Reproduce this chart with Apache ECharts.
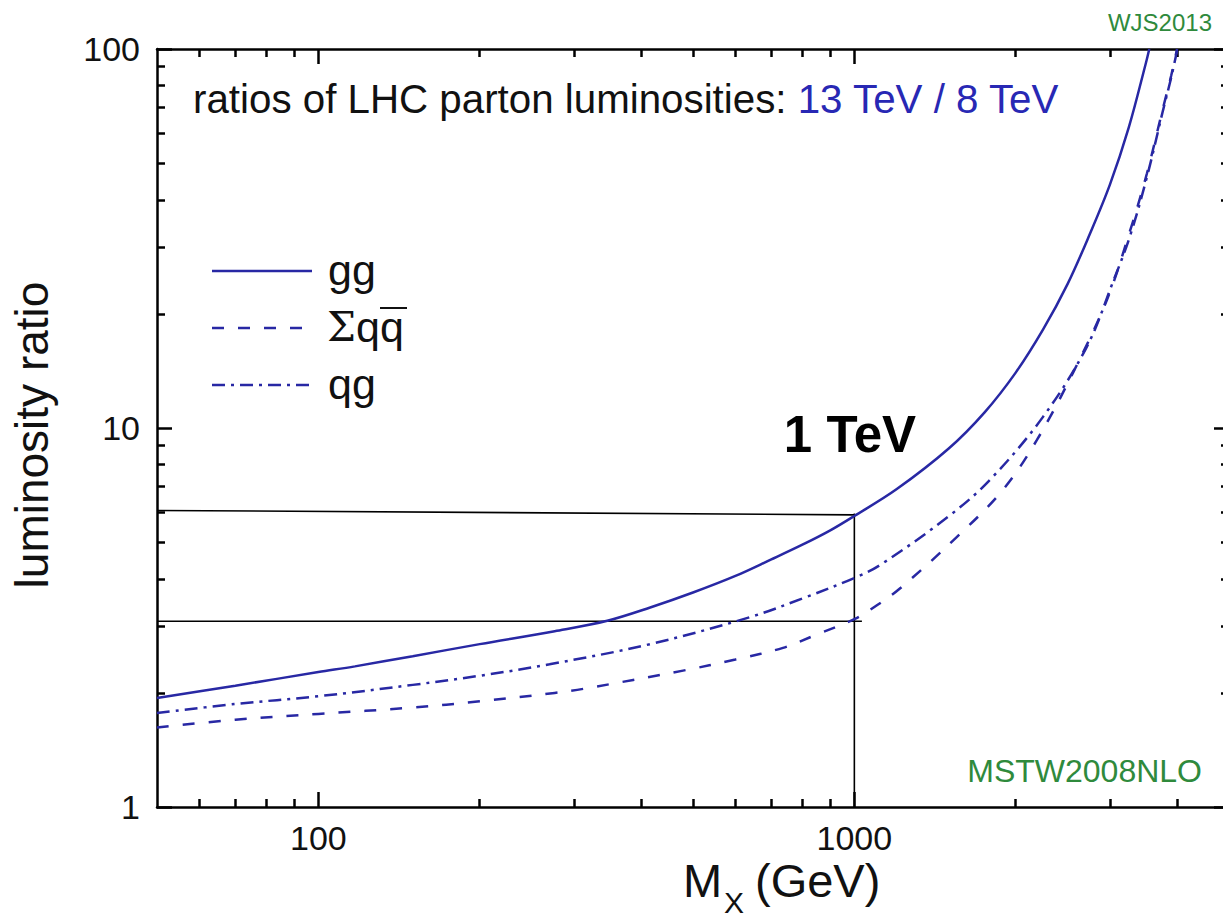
<!DOCTYPE html>
<html><head><meta charset="utf-8">
<script src="https://cdn.jsdelivr.net/npm/echarts@6/dist/echarts.min.js"></script>
<style>html,body{margin:0;padding:0;background:#fff}#c{width:1223px;height:917px}</style>
</head><body><div id="c"></div>
<script>
// ---- data (M_X in GeV, luminosity ratio 13 TeV / 8 TeV) ----
const massGG = [50, 70, 100, 117, 150, 200, 276, 346, 416, 500, 600, 700, 800, 900, 1000, 1200, 1500, 1750, 2000, 2250, 2500, 2750, 3000, 3250, 3500, 3550];
const lumGG  = [1.94, 2.09, 2.27, 2.35, 2.50, 2.69, 2.91, 3.10, 3.36, 3.68, 4.07, 4.50, 4.92, 5.36, 5.86, 6.9, 8.83, 11.0, 14.0, 18.2, 24, 32.5, 44, 62, 92, 100];
const massQQ = [50, 70, 100, 150, 200, 276, 312, 479, 600, 736, 850, 1000, 1100, 1216, 1554, 1892, 2191, 2559, 2960, 3266, 3515, 3767, 3900, 4000];
const lumQQ  = [1.62, 1.70, 1.76, 1.83, 1.90, 2.0, 2.05, 2.29, 2.45, 2.63, 2.85, 3.13, 3.40, 3.77, 5.16, 6.86, 9.3, 14.0, 21.8, 33, 47, 70, 85, 100];
const massQG = [50, 70, 100, 150, 200, 270, 416, 639, 800, 1000, 1117, 1500, 1791, 2249, 2716, 3041, 3266, 3515, 3767, 3900, 4000];
const lumQG  = [1.77, 1.87, 1.96, 2.1, 2.22, 2.38, 2.69, 3.17, 3.55, 4.02, 4.35, 5.85, 7.3, 10.7, 16.4, 24.4, 32, 46, 69, 84, 99];
// reference guide lines at 1 TeV
const guideUpperX = [50, 1000];   const guideUpperY = [6.06, 5.90];
const guideLowerX = [50, 1033];   const guideLowerY = [3.09, 3.09];
const guideVertX  = [1000, 1000]; const guideVertY  = [5.95, 1];
// ticks
const xMajorTicks = [100, 1000];
const xMinorTicks = [60, 70, 80, 90, 200, 300, 400, 500, 600, 700, 800, 900, 2000, 3000, 4000];
const yMajorTicks = [1, 10, 100];
const yMinorTicks = [2, 3, 4, 5, 6, 7, 8, 9, 20, 30, 40, 50, 60, 70, 80, 90];

const pairs = (xs, ys) => xs.map((x, i) => [x, ys[i]]);
const CURVE = '#2828a4';
const FONT = 'Liberation Sans, Arial, sans-serif';

const chart = echarts.init(document.getElementById('c'), null, {renderer: 'svg'});

function xAx(pos, ticks, len, line, labels) {
  return {
    type: 'log', logBase: 10, min: 50, max: 5000, position: pos, gridIndex: 0,
    axisLine: {show: line, onZero: false, lineStyle: {color: '#000', width: 2.5}},
    axisTick: {show: true, inside: true, length: len, customValues: ticks, lineStyle: {color: '#000', width: 2.5}},
    axisLabel: labels ? {show: true, customValues: ticks, formatter: v => String(Math.round(v)), fontSize: 34, color: '#111', fontFamily: FONT, margin: 14} : {show: false},
    splitLine: {show: false}, minorTick: {show: false}
  };
}
function yAx(pos, ticks, len, line, labels) {
  return {
    type: 'log', logBase: 10, min: 1, max: 100, position: pos, gridIndex: 0,
    axisLine: {show: line, onZero: false, lineStyle: {color: '#000', width: 2.5}},
    axisTick: {show: true, inside: true, length: len, customValues: ticks, lineStyle: {color: '#000', width: 2.5}},
    axisLabel: labels ? {show: true, customValues: ticks, formatter: v => String(Math.round(v)), fontSize: 34, color: '#111', fontFamily: FONT, margin: 17} : {show: false},
    splitLine: {show: false}, minorTick: {show: false}
  };
}

const guide = (xs, ys) => ({
  type: 'line', data: pairs(xs, ys), symbol: 'none', silent: true,
  lineStyle: {color: '#000', width: 1.6}, z: 3
});
const curve = (name, xs, ys, dash) => ({
  name, type: 'line', data: pairs(xs, ys), symbol: 'none', smooth: 0.35, clip: true,
  lineStyle: {color: CURVE, width: 2.5, type: dash}, z: 4
});

chart.setOption({
  animation: false,
  backgroundColor: '#fff',
  grid: {left: 157, top: 49, width: 1072, height: 758, outerBoundsMode: 'none', containLabel: false},
  xAxis: [
    xAx('bottom', xMajorTicks, 15, true, true),
    xAx('bottom', xMinorTicks, 8, false, false),
    xAx('top', xMajorTicks, 15, true, false),
    xAx('top', xMinorTicks, 8, false, false)
  ],
  yAxis: [
    yAx('left', yMajorTicks, 15, true, true),
    yAx('left', yMinorTicks, 8, false, false),
    yAx('right', yMajorTicks, 15, true, false),
    yAx('right', yMinorTicks, 8, false, false)
  ],
  series: [
    guide(guideUpperX, guideUpperY),
    guide(guideLowerX, guideLowerY),
    guide(guideVertX, guideVertY),
    curve('gg', massGG, lumGG, 'solid'),
    curve('Σqq̄', massQQ, lumQQ, [12, 14]),
    curve('qg', massQG, lumQG, [13, 6, 3, 6])
  ],
  graphic: [
    {type: 'text', x: 193, y: 99, style: {
      text: '{a|ratios of LHC parton luminosities: }{b|13 TeV / 8 TeV}',
      verticalAlign: 'middle', align: 'left',
      rich: {a: {fontSize: 40.3, fontFamily: FONT, fill: '#111'}, b: {fontSize: 40.3, fontFamily: FONT, fill: '#2828b4'}}
    }},
    // legend
    {type: 'line', shape: {x1: 212, y1: 271, x2: 312, y2: 271}, style: {stroke: CURVE, lineWidth: 2.5}},
    {type: 'line', shape: {x1: 212, y1: 328, x2: 305, y2: 328}, style: {stroke: CURVE, lineWidth: 2.5, lineDash: [12, 14]}},
    {type: 'line', shape: {x1: 212, y1: 385, x2: 315, y2: 385}, style: {stroke: CURVE, lineWidth: 2.5, lineDash: [13, 6, 3, 6]}},
    {type: 'text', x: 328, y: 270, style: {text: 'gg', fontSize: 43, fontFamily: FONT, fill: '#111', verticalAlign: 'middle'}},
    {type: 'text', x: 327, y: 327, style: {text: '{s|Σ}{q|qq}', verticalAlign: 'middle',
      rich: {s: {fontSize: 41, fontFamily: 'DejaVu Serif, Liberation Serif, serif', fill: '#111'}, q: {fontSize: 43, fontFamily: FONT, fill: '#111'}}}},
    {type: 'line', shape: {x1: 380, y1: 308, x2: 407, y2: 308}, style: {stroke: '#111', lineWidth: 2}},
    {type: 'text', x: 328, y: 384, style: {text: 'qg', fontSize: 43, fontFamily: FONT, fill: '#111', verticalAlign: 'middle'}},
    // annotations
    {type: 'text', x: 850, y: 434, style: {text: '1 TeV', fontSize: 51, fontWeight: 'bold', fontFamily: FONT, fill: '#000', align: 'center', verticalAlign: 'middle'}},
    {type: 'text', x: 1212, y: 22, style: {text: 'WJS2013', fontSize: 24, fontFamily: FONT, fill: '#2f8a3c', align: 'right', verticalAlign: 'middle'}},
    {type: 'text', x: 1202, y: 771, style: {text: 'MSTW2008NLO', fontSize: 32, fontFamily: FONT, fill: '#2f8a3c', align: 'right', verticalAlign: 'middle'}},
    // axis titles
    {type: 'text', x: 32, y: 435, rotation: Math.PI / 2, style: {text: 'luminosity ratio', fontSize: 46, fontFamily: FONT, fill: '#111', align: 'center', verticalAlign: 'middle'}},
    {type: 'text', x: 683, y: 880, style: {text: 'M', fontSize: 47, fontFamily: FONT, fill: '#111', align: 'left', verticalAlign: 'middle'}},
    {type: 'text', x: 724, y: 902, style: {text: 'X', fontSize: 30, fontFamily: FONT, fill: '#111', align: 'left', verticalAlign: 'middle'}},
    {type: 'text', x: 755, y: 880, style: {text: '(GeV)', fontSize: 47, fontFamily: FONT, fill: '#111', align: 'left', verticalAlign: 'middle'}}
  ]
});
</script>
</body></html>
